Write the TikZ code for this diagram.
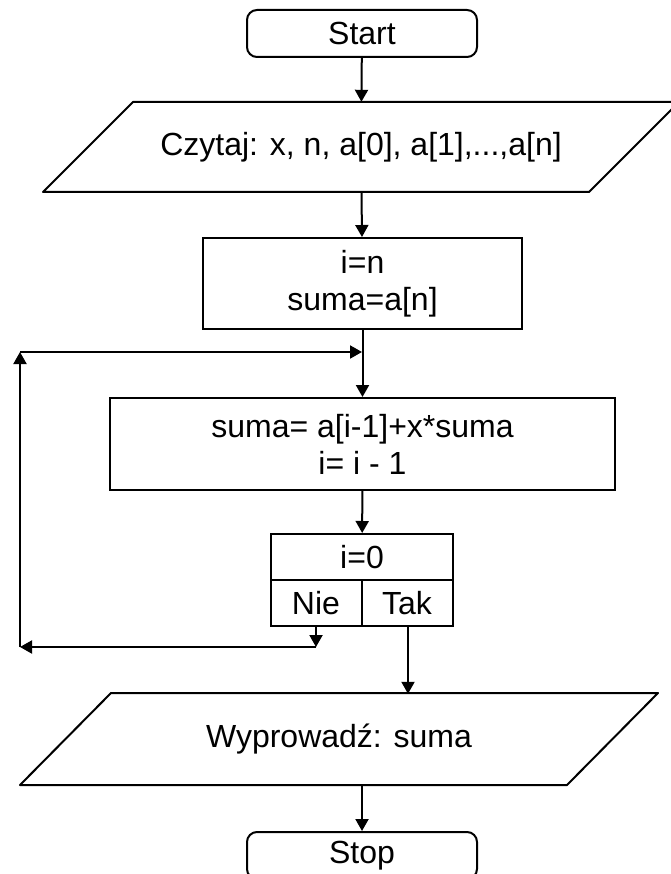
\documentclass[tikz,border=0pt]{standalone}
\usepackage{fontspec}
\setmainfont{Liberation Sans}
\usetikzlibrary{arrows.meta}
\begin{document}
\begin{tikzpicture}[x=1pt,y=-1pt,
  txt/.style={font=\fontsize{32}{37}\selectfont,align=center,inner sep=0pt},
  box/.style={txt,draw,line width=2pt,rectangle},
  term/.style={box,rounded corners=10pt,minimum width=230pt,minimum height=47pt},
  io/.style={txt,minimum height=90pt},
  arr/.style={line width=2pt,-{Triangle[length=12pt,width=13pt]}},
  edge/.style={line width=2pt,line join=round}
]
\useasboundingbox (0,0) rectangle (670,874);
% nodes
\node[term] (start) at (362,33.5) {Start};
\node[io] (p1) at (361,147) {Czytaj: x, n, a[0], a[1],...,a[n]};
\draw[edge] (43,192) -- (133,102) -- (679,102) -- (589,192) -- cycle;
\node[box,minimum width=319pt,minimum height=91pt] (b1) at (362.5,283.5) {i=n\\suma=a[n]};
\node[box,minimum width=505pt,minimum height=92pt] (b2) at (362.5,444) {suma= a[i-1]+x*suma\\i= i - 1};
\node[box,minimum width=182pt,minimum height=92pt] (dec) at (362,580) {};
\node[txt] (cond) at (362,557) {i=0};
\node[txt] (nie) at (316,603) {Nie};
\node[txt] (tak) at (407,603) {Tak};
\draw[line width=2pt] (dec.west) -- (dec.east);
\draw[line width=2pt] (dec.center) -- (dec.south);
\node[io] (p2) at (339,739) {Wyprowadź: suma};
\draw[edge] (20,785) -- (111,693) -- (658,693) -- (567,785) -- cycle;
\node[term] (stop) at (362,855.5) {Stop};
% coordinates
\coordinate (J) at (362,352);
\coordinate (LT) at (20,352);
\coordinate (LB) at (20,647);
\coordinate (NB) at (316,647);
\coordinate (nieOut) at (dec.south -| nie);
\coordinate (takOut) at (408,626);
\coordinate (p2Out) at (stop.north |- p2.south);
% connectors
\draw[arr] (start) -- (p1);
\draw[arr] (p1) -- (b1);
\draw[arr] (b1) -- (b2);
\draw[arr] (b2) -- (dec);
\draw[arr] (nieOut) -- (NB);
\draw[arr] (NB) -- (LB);
\draw[arr] (LB) -- (LT);
\draw[arr] (LT) -- (J);
\draw[arr] (takOut) -- (takOut |- p2.north);
\draw[arr] (p2Out) -- (stop);
\end{tikzpicture}
\end{document}
